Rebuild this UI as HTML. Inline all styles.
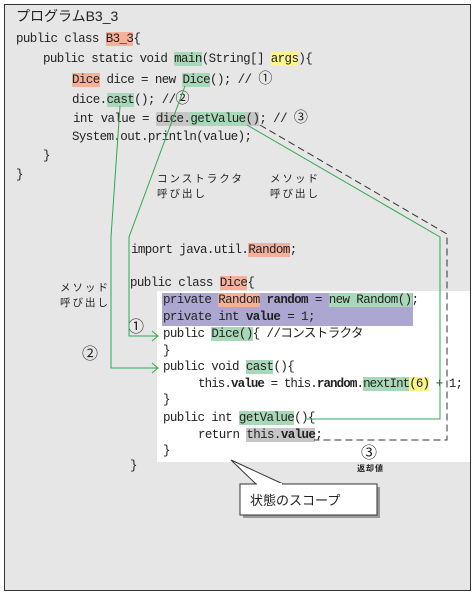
<!DOCTYPE html>
<html><head><meta charset="utf-8"><style>
html,body{margin:0;padding:0;width:475px;height:595px;overflow:hidden;background:#fff}
#f{position:absolute;left:4px;top:4px;width:465px;height:585px;border:1.5px solid #333;background:#e6e6e6}
.t{position:absolute;white-space:pre;font-family:"Liberation Mono","Noto Sans CJK JP",monospace;font-size:12.5px;line-height:15px;color:#222;letter-spacing:-0.6px}
.j{position:absolute;white-space:pre;font-family:"Liberation Sans","Noto Sans CJK JP",sans-serif;font-size:10.5px;line-height:15px;color:#222;letter-spacing:2px}
.c{position:absolute;font-family:"Noto Sans CJK JP",sans-serif;font-size:16px;line-height:16px;color:#222}
.cc{font-family:"Noto Sans CJK JP",sans-serif;font-size:14px}
.r{background:#f4b09a}.g{background:#a9d8b8}.y{background:#fbf58a}.k{background:#c6c6c6}
b{font-weight:bold}
</style></head><body>
<div id="f"></div>
<div style="position:absolute;left:157px;top:291px;width:313px;height:171px;background:#fff"></div>
<div style="position:absolute;left:162px;top:293px;width:251px;height:33px;background:#aba7d1"></div>
<div class="t" style="left:16px;top:9px;font-family:'Liberation Sans','Noto Sans CJK JP',sans-serif;font-size:14px;letter-spacing:0">プログラムB3_3</div>
<div class="t" style="left:16px;top:32px">public class <span class="r">B3_3</span>{</div>
<div class="t" style="left:43px;top:52px">public static void <span class="g">main</span>(String[] <span class="y">args</span>){</div>
<div class="t" style="left:72px;top:71px"><span class="r">Dice</span> dice = new <span class="g">Dice</span>(); // <span class="cc">①</span></div>
<div class="t" style="left:72px;top:91px">dice.<span class="g">cast</span>(); //<span class="cc">②</span></div>
<div class="t" style="left:73px;top:110px">int value = <span class="k">dice.<span class="g">getValue</span>()</span>; // <span class="cc">③</span></div>
<div class="t" style="left:72px;top:130px">System.out.println(value);</div>
<div class="t" style="left:43px;top:149px">}</div>
<div class="t" style="left:16px;top:168px">}</div>
<div class="j" style="left:157px;top:172px">コンストラクタ<br>呼び出し</div>
<div class="j" style="left:270px;top:172px">メソッド<br>呼び出し</div>
<div class="j" style="left:60px;top:281px">メソッド<br>呼び出し</div>
<div class="t" style="left:131px;top:243px">import java.util.<span class="r">Random</span>;</div>
<div class="t" style="left:130px;top:276px">public class <span class="r">Dice</span>{</div>
<div class="t" style="left:163px;top:293px">private <span class="r">Random</span> <b>random</b> = <span class="g">new Random()</span>;</div>
<div class="t" style="left:163px;top:310px">private int <b>value</b> = 1;</div>
<div class="t" style="left:163px;top:327px">public <span class="g">Dice()</span>{ //コンストラクタ</div>
<div class="t" style="left:163px;top:344px">}</div>
<div class="t" style="left:163px;top:360px">public void <span class="g">cast</span>(){</div>
<div class="t" style="left:198px;top:377px;letter-spacing:-0.9px">this.<b>value</b> = this.<b>random</b>.<span class="g">nextInt</span><span class="y">(6)</span> + 1;</div>
<div class="t" style="left:163px;top:393px">}</div>
<div class="t" style="left:163px;top:411px">public int <span class="g">getValue</span>(){</div>
<div class="t" style="left:198px;top:428px">return <span class="k">this.<b>value</b></span>;</div>
<div class="t" style="left:163px;top:444px">}</div>
<div class="t" style="left:130px;top:459px">}</div>
<div class="c" style="left:128px;top:317px">①</div>
<div class="c" style="left:82px;top:344px">②</div>
<div class="c" style="left:361px;top:443px">③</div>
<div class="j" style="left:357px;top:461px;font-size:8px;font-weight:bold;letter-spacing:1px">返却値</div>
<svg width="475" height="595" style="position:absolute;left:0;top:0">
<g fill="none" stroke="#2fa84f" stroke-width="1">
<polyline points="120,106 111,237 111,368 158,368"/>
<polyline points="185,86 129,237 129,336 158,336"/>
<polyline points="247,125 440,237 440,419 305,419"/>
<polyline points="152,363 158,368 152,373"/>
<polyline points="152,331 158,336 152,341"/>
</g>
<polyline points="260,125 447,234 447,440 314,440" fill="none" stroke="#333" stroke-width="1" stroke-dasharray="7,4"/>
<rect x="243" y="487" width="137" height="31" fill="#999"/>
<rect x="240" y="484" width="137" height="31" fill="#fff" stroke="#333" stroke-width="1"/>
<polygon points="231,460 256,484 283,484" fill="#fff" stroke="#333" stroke-width="1"/>
<line x1="257" y1="484" x2="282" y2="484" stroke="#fff" stroke-width="2"/>
<text x="250" y="505" font-family="Liberation Sans,Noto Sans CJK JP,sans-serif" font-size="13" fill="#222">状態のスコープ</text>
</svg>
</body></html>
